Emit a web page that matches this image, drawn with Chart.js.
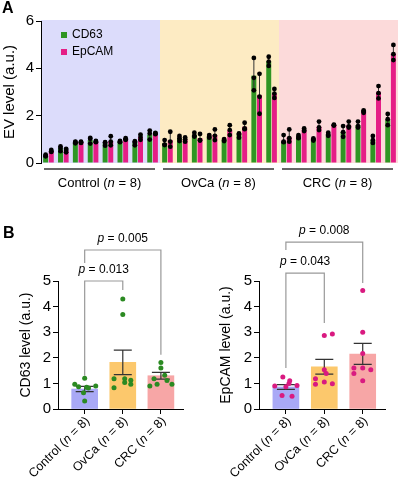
<!DOCTYPE html>
<html>
<head>
<meta charset="utf-8">
<script src="https://cdn.jsdelivr.net/npm/chart.js@4.4.1/dist/chart.umd.min.js"></script>
<style>
  body { margin: 0; background: #fff; }
  canvas { position: absolute; }
</style>
</head>
<body>
<canvas id="evChart" width="398" height="200" style="left:0;top:0"></canvas>
<canvas id="cd63Chart" width="199" height="262" style="left:0;top:215px"></canvas>
<canvas id="epcamChart" width="198" height="262" style="left:200px;top:215px"></canvas>
<script>
// --- data ---
const groups = ['Control', 'OvCa', 'CRC'];
const groupN = [8, 8, 8];
const samples = [
  'C1', 'C2', 'C3', 'C4', 'C5', 'C6', 'C7', 'C8',
  'O1', 'O2', 'O3', 'O4', 'O5', 'O6', 'O7', 'O8',
  'R1', 'R2', 'R3', 'R4', 'R5', 'R6', 'R7', 'R8'
];
// panel A bar heights (per sample)
const cd63 = [
  0.31, 0.63, 0.87, 0.97, 0.82, 0.90, 0.85, 1.20,
  0.83, 1.04, 1.18, 1.12, 0.97, 1.18, 3.69, 4.30,
  0.90, 1.11, 0.97, 1.18, 1.32, 1.60, 0.97, 1.82
];
const epcam = [
  0.50, 0.53, 0.87, 0.90, 0.92, 1.00, 1.10, 1.25,
  0.97, 0.99, 1.05, 1.18, 1.39, 1.53, 2.87, 2.93,
  1.10, 1.39, 1.53, 1.60, 1.60, 2.17, 3.00, 4.63
];
// triplicate measurements (black dots)
const cd63Reps = [
  [0.35, 0.30, 0.28], [0.70, 0.63, 0.50], [0.90, 0.88, 0.83], [1.06, 1.02, 0.82],
  [0.88, 0.85, 0.73], [0.93, 0.90, 0.88], [0.92, 0.88, 0.75], [1.37, 1.25, 0.99],
  [0.97, 0.78, 0.76], [1.14, 1.05, 0.93], [1.28, 1.14, 1.12], [1.18, 1.11, 1.07],
  [1.01, 0.97, 0.93], [1.25, 1.22, 1.07], [4.44, 3.60, 3.07], [4.49, 4.28, 4.10],
  [1.18, 0.90, 0.88], [1.18, 1.11, 1.05], [1.04, 1.00, 0.95], [1.28, 1.20, 1.15],
  [1.56, 1.30, 1.11], [1.75, 1.56, 1.50], [1.14, 0.97, 0.85], [2.07, 1.85, 1.60]
];
const epcamReps = [
  [0.55, 0.50, 0.47], [0.60, 0.55, 0.45], [0.90, 0.88, 0.85], [0.93, 0.90, 0.88],
  [1.13, 0.90, 0.75], [1.05, 1.00, 0.98], [1.20, 1.10, 0.98], [1.27, 1.25, 1.22],
  [1.32, 0.90, 0.69], [1.08, 1.00, 0.90], [1.23, 0.97, 0.95], [1.42, 1.15, 0.97],
  [1.60, 1.39, 1.18], [1.70, 1.46, 1.43], [3.77, 2.80, 2.08], [3.13, 2.93, 2.75],
  [1.42, 1.05, 0.90], [1.46, 1.39, 1.35], [1.75, 1.50, 1.39], [1.62, 1.60, 1.58],
  [1.75, 1.55, 1.50], [2.22, 2.18, 2.12], [3.25, 2.95, 2.73], [4.99, 4.60, 4.35]
];
// panel B group summaries (mean +/- SEM)
const cd63Mean = [0.78, 1.82, 1.30];
const cd63Sem = [0.10, 0.48, 0.13];
const epcamMean = [0.86, 1.65, 2.15];
const epcamSem = [0.09, 0.29, 0.41];
const cd63P = ['0.013', '0.005'];
const epcamP = ['0.043', '0.008'];
// horizontal scatter of the dots in panel B (category units)
const cd63Jitter = [
  0.00, -0.03, -0.16, -0.26, 0.10, 0.29, 0.05, 0.00,
  -0.23, 0.05, -0.23, 0.21, 0.21, 0.05, 0.00, 0.00,
  -0.29, 0.16, -0.10, -0.18, 0.10, 0.00, 0.29, 0.00
];
const epcamJitter = [
  0.16, -0.10, 0.00, -0.29, 0.29, 0.08, 0.10, -0.08,
  -0.23, 0.21, 0.00, -0.23, 0.05, 0.00, 0.00, 0.21,
  0.00, -0.23, 0.21, -0.23, 0.00, 0.00, 0.00, 0.00
];

// --- styles ---
const FONT = "'Liberation Sans', Arial, Helvetica, sans-serif";
Chart.defaults.font.family = FONT;
Chart.defaults.color = '#000';
const GREEN = '#2f9623';
const MAGENTA = '#e51e86';
const BG = ['#dcdcfb', '#fdebc3', '#fcdada'];
const BAR_B = ['#a9a9f6', '#fcc86c', '#f7a6a6'];

function drawRich(ctx, parts, x, y, align, size) {
  const fonts = parts.map(p => (p[1] ? 'italic ' : '') + size + 'px ' + FONT);
  let total = 0;
  const widths = parts.map((p, i) => {
    ctx.font = fonts[i];
    const w = ctx.measureText(p[0]).width;
    total += w;
    return w;
  });
  let cx = align === 'center' ? x - total / 2 : align === 'right' ? x - total : x;
  ctx.textAlign = 'left';
  parts.forEach((p, i) => {
    ctx.font = fonts[i];
    ctx.fillText(p[0], cx, y);
    cx += widths[i];
  });
}
const groupLabel = i => [[groups[i] + ' (', false], ['n', true], [' = ' + groupN[i] + ')', false]];

function letter(ctx, ch, x, y) {
  ctx.save();
  ctx.fillStyle = '#000';
  ctx.font = 'bold 16px ' + FONT;
  ctx.textAlign = 'left';
  ctx.textBaseline = 'top';
  ctx.fillText(ch, x, y);
  ctx.restore();
}

// ---------- panel A ----------
const groupBg = {
  id: 'groupBg',
  beforeDraw(chart) {
    const {ctx, chartArea, scales: {x}} = chart;
    const half = (x.getPixelForValue(1) - x.getPixelForValue(0)) / 2;
    let start = 0;
    groups.forEach((g, i) => {
      const x0 = x.getPixelForValue(start) - half;
      const x1 = x.getPixelForValue(start + groupN[i] - 1) + half;
      ctx.fillStyle = BG[i];
      ctx.fillRect(x0, chartArea.top - 1, x1 - x0, chartArea.bottom - chartArea.top + 1);
      start += groupN[i];
    });
  }
};

const replicateDots = {
  id: 'replicateDots',
  afterDatasetsDraw(chart) {
    const {ctx, scales: {y}} = chart;
    ctx.save();
    chart.data.datasets.forEach((ds, di) => {
      chart.getDatasetMeta(di).data.forEach((bar, i) => {
        const ys = ds.reps[i].map(v => y.getPixelForValue(v));
        ctx.strokeStyle = '#333';
        ctx.lineWidth = 1;
        ctx.beginPath();
        ctx.moveTo(bar.x, Math.min(...ys));
        ctx.lineTo(bar.x, Math.max(...ys));
        ctx.stroke();
        ctx.fillStyle = '#000';
        ys.forEach(py => {
          ctx.beginPath();
          ctx.arc(bar.x, py, 2.4, 0, Math.PI * 2);
          ctx.fill();
        });
      });
    });
    ctx.restore();
  }
};

const groupAxis = {
  id: 'groupAxis',
  afterDraw(chart) {
    const {ctx, chartArea, scales: {x}} = chart;
    const half = (x.getPixelForValue(1) - x.getPixelForValue(0)) / 2;
    ctx.save();
    let start = 0;
    groups.forEach((g, i) => {
      const x0 = x.getPixelForValue(start) - half + 3;
      const x1 = x.getPixelForValue(start + groupN[i] - 1) + half - 5;
      ctx.strokeStyle = '#333';
      ctx.lineWidth = 1.3;
      ctx.beginPath();
      ctx.moveTo(x0, chartArea.bottom + 6);
      ctx.lineTo(x1, chartArea.bottom + 6);
      ctx.stroke();
      ctx.fillStyle = '#000';
      ctx.textBaseline = 'middle';
      drawRich(ctx, groupLabel(i), (x0 + x1) / 2, chartArea.bottom + 20, 'center', 13);
      start += groupN[i];
    });
    // legend
    const lx = chartArea.left + 20;
    chart.data.datasets.forEach((ds, i) => {
      const ly = chartArea.top + 14 + i * 17;
      ctx.fillStyle = ds.backgroundColor;
      ctx.fillRect(lx, ly - 3, 6, 6);
      ctx.fillStyle = '#000';
      ctx.font = '12px ' + FONT;
      ctx.textAlign = 'left';
      ctx.textBaseline = 'middle';
      ctx.fillText(ds.label, lx + 11, ly);
    });
    letter(ctx, 'A', 2, 1);
    ctx.restore();
  }
};

new Chart(document.getElementById('evChart'), {
  type: 'bar',
  data: {
    labels: samples,
    datasets: [
      {label: 'CD63', data: cd63, backgroundColor: GREEN, reps: cd63Reps},
      {label: 'EpCAM', data: epcam, backgroundColor: MAGENTA, reps: epcamReps}
    ]
  },
  options: {
    responsive: false,
    animation: false,
    layout: {padding: {top: 21, left: 0, right: 0, bottom: 0}},
    datasets: {bar: {categoryPercentage: 0.76, barPercentage: 0.88}},
    plugins: {legend: {display: false}, tooltip: {enabled: false}},
    scales: {
      x: {
        grid: {display: false},
        border: {display: false},
        ticks: {display: false},
        afterFit: s => { s.height = 37; }
      },
      y: {
        min: 0, max: 6,
        ticks: {stepSize: 2, font: {size: 15}, padding: 2},
        grid: {drawOnChartArea: false, tickLength: 5, color: '#000'},
        border: {color: '#000'},
        title: {display: true, text: 'EV level (a.u.)', font: {size: 15}, padding: {top: 1, bottom: 0}},
        afterFit: s => { s.width = 41; }
      }
    }
  },
  plugins: [groupBg, replicateDots, groupAxis]
});

// ---------- panel B ----------
function groupChart(id, means, sems, values, jitter, dotColor, yTitle, pvals, brackets, yWidth, padRight, withLetter) {
  const points = values.map((v, i) => {
    let g = 0, c = 0;
    while (i >= c + groupN[g]) { c += groupN[g]; g++; }
    return {x: g + jitter[i], y: v};
  });

  const extras = {
    id: 'extras',
    afterDatasetDraw(chart, args) {
      if (args.index !== 1) return;
      const {ctx, scales: {x, y}} = chart;
      ctx.save();
      ctx.strokeStyle = '#333';
      ctx.lineWidth = 1.2;
      means.forEach((m, g) => {
        const px = x.getPixelForValue(g);
        const hi = y.getPixelForValue(m + sems[g]);
        const lo = y.getPixelForValue(m - sems[g]);
        ctx.beginPath();
        ctx.moveTo(px, hi); ctx.lineTo(px, lo);
        ctx.moveTo(px - 9, hi); ctx.lineTo(px + 9, hi);
        ctx.moveTo(px - 9, lo); ctx.lineTo(px + 9, lo);
        ctx.stroke();
      });
      ctx.restore();
    },
    afterDraw(chart) {
      const {ctx, chartArea, scales: {x, y}} = chart;
      ctx.save();
      // brackets
      brackets.forEach((b, k) => {
        const x0 = x.getPixelForValue(b.from), x1 = x.getPixelForValue(b.to);
        const yt = y.getPixelForValue(b.top);
        ctx.strokeStyle = '#999';
        ctx.lineWidth = 1.2;
        ctx.beginPath();
        ctx.moveTo(x0, y.getPixelForValue(b.left));
        ctx.lineTo(x0, yt);
        ctx.lineTo(x1, yt);
        ctx.lineTo(x1, y.getPixelForValue(b.right));
        ctx.stroke();
        ctx.fillStyle = '#000';
        ctx.textBaseline = 'middle';
        drawRich(ctx, [['p', true], [' = ' + pvals[k], false]], (x0 + x1) / 2, yt - 11, 'center', 12);
      });
      // rotated group labels
      groups.forEach((g, i) => {
        const px = x.getPixelForValue(i);
        ctx.save();
        ctx.translate(px + 3, chartArea.bottom + 10);
        ctx.rotate(-Math.PI / 4);
        ctx.fillStyle = '#000';
        ctx.textBaseline = 'middle';
        drawRich(ctx, groupLabel(i), 0, 0, 'right', 12.5);
        ctx.restore();
      });
      if (withLetter) letter(ctx, 'B', 3, 11);
      ctx.restore();
    }
  };

  new Chart(document.getElementById(id), {
    type: 'bar',
    data: {
      datasets: [
        {
          type: 'scatter', data: points, order: 0,
          pointRadius: 2.5, pointBackgroundColor: dotColor, pointBorderWidth: 0
        },
        {
          type: 'bar', data: means.map((m, g) => ({x: g, y: m})), order: 1,
          backgroundColor: BAR_B, barThickness: 26
        }
      ]
    },
    options: {
      responsive: false,
      animation: false,
      layout: {padding: {top: 66, left: 0, right: padRight, bottom: 0}},
      plugins: {legend: {display: false}, tooltip: {enabled: false}},
      scales: {
        x: {
          type: 'linear', min: -0.7, max: 2.58, offset: false,
          grid: {drawOnChartArea: false, offset: false, tickLength: 5, color: '#000'},
          border: {color: '#000'},
          ticks: {display: false},
          afterBuildTicks: s => { s.ticks = groups.map((g, i) => ({value: i})); },
          afterFit: s => { s.height = 68; }
        },
        y: {
          min: 0, max: 5,
          ticks: {stepSize: 1, font: {size: 15}, padding: 2},
          grid: {drawOnChartArea: false, tickLength: 5, color: '#000'},
          border: {color: '#000'},
          title: {display: true, text: yTitle, font: {size: 14}, padding: {top: 18, bottom: 0}},
          afterFit: s => { s.width = yWidth; }
        }
      }
    },
    plugins: [extras]
  });
}

groupChart('cd63Chart', cd63Mean, cd63Sem, cd63, cd63Jitter, '#2b8a22', 'CD63 level (a.u.)', cd63P, [
  {from: 0, to: 1, top: 5.0, left: 1.3, right: 4.65},
  {from: 0, to: 2, top: 6.21, left: 5.7, right: 2.12}
], 58, 16, true);

groupChart('epcamChart', epcamMean, epcamSem, epcam, epcamJitter, '#d91a80', 'EpCAM level (a.u.)', epcamP, [
  {from: 0, to: 1, top: 5.31, left: 1.6, right: 3.36},
  {from: 0, to: 2, top: 6.52, left: 6.21, right: 4.92}
], 59, 13, false);
</script>
</body>
</html>
